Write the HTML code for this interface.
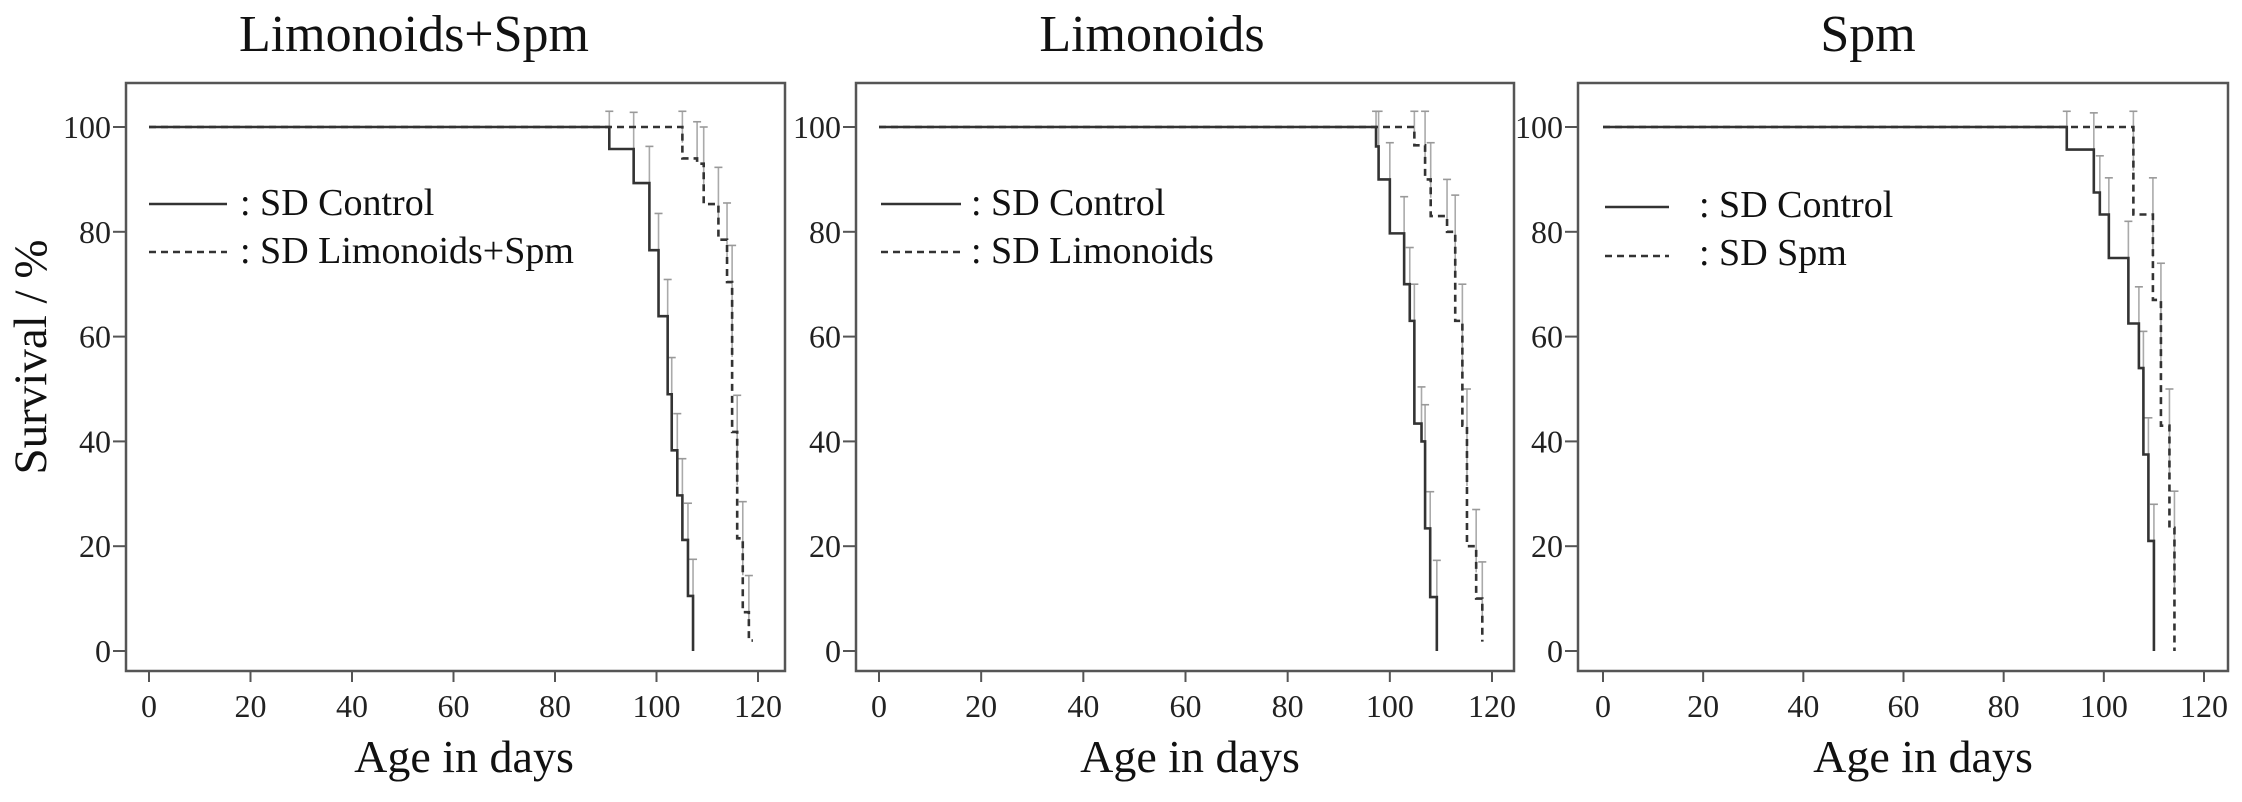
<!DOCTYPE html>
<html><head><meta charset="utf-8"><style>
html,body{margin:0;padding:0;background:#fff;}
svg{display:block;font-family:"Liberation Serif",serif;}
</style></head><body>
<svg id="s" width="2242" height="802" viewBox="0 0 2242 802" xmlns="http://www.w3.org/2000/svg">
<rect width="2242" height="802" fill="#fff"/>
<text x="414" y="51" font-size="52" text-anchor="middle" fill="#111">Limonoids+Spm</text>
<text x="1152" y="51" font-size="52" text-anchor="middle" fill="#111">Limonoids</text>
<text x="1868" y="51" font-size="52" text-anchor="middle" fill="#111">Spm</text>
<text transform="translate(46,357) rotate(-90)" font-size="47" text-anchor="middle" fill="#111">Survival / %</text>
<text x="464" y="772" font-size="46" text-anchor="middle" fill="#111">Age in days</text>
<text x="1190" y="772" font-size="46" text-anchor="middle" fill="#111">Age in days</text>
<text x="1923" y="772" font-size="46" text-anchor="middle" fill="#111">Age in days</text>
<g font-size="38" fill="#111">
<text x="240" y="215">: SD Control</text>
<text x="240" y="263">: SD Limonoids+Spm</text>
<text x="971" y="215">: SD Control</text>
<text x="971" y="263">: SD Limonoids</text>
<text x="1699" y="217">: SD Control</text>
<text x="1699" y="265">: SD Spm</text>
</g>
<g stroke="#333" stroke-width="2.5">
<line x1="149" y1="204" x2="227" y2="204"/>
<line x1="149" y1="252" x2="227" y2="252" stroke-dasharray="7,5"/>
<line x1="881" y1="204" x2="961" y2="204"/>
<line x1="881" y1="252" x2="961" y2="252" stroke-dasharray="7,5"/>
<line x1="1605" y1="207" x2="1669" y2="207"/>
<line x1="1605" y1="256" x2="1669" y2="256" stroke-dasharray="7,5"/>
</g>
<g id="ticks" font-size="32" fill="#222"></g>
<g id="plots"></g>
</svg>
<script>
var NS="http://www.w3.org/2000/svg";
var panels=[
 {L:126,R:785,x0:149,x120:758,
  solid:[[90.7,95.8],[95.5,89.3],[98.6,76.5],[100.4,63.9],[102.2,49],[103,38.3],[104.1,29.7],[105.1,21.2],[106.2,10.5],[107.2,0]],
  dash:[[105.1,94],[108,93],[109.3,85.3],[112.2,78.5],[113.9,70.4],[114.9,41.8],[115.9,21.5],[117,7.4],[118.2,2]],dend:119},
 {L:856,R:1514,x0:879,x120:1492,
  solid:[[97.3,96.3],[97.8,90],[100,79.7],[102.8,70],[103.9,63],[104.8,43.4],[106.2,40],[106.9,23.4],[107.9,10.3],[109.2,0]],
  dash:[[104.8,96.5],[106.9,90],[108,83],[111.2,80],[112.8,63],[114.2,43],[115.1,20],[116.9,10],[118.1,1.8]],dend:118.1},
 {L:1578,R:2228,x0:1603,x120:2204,
  solid:[[92.6,95.7],[98,87.5],[99.2,83.3],[101,75],[104.9,62.5],[107,54],[107.9,37.5],[108.9,21],[110,0]],
  dash:[[105.9,83.3],[109.8,67],[111.4,43],[113.1,23.5],[114.1,0]],dend:114.1}
];
var T=83,B=671,Y100=127,Y0=651;
function el(n,a,p){var e=document.createElementNS(NS,n);for(var k in a)e.setAttribute(k,a[k]);p.appendChild(e);return e;}
var P=document.getElementById('plots'),TK=document.getElementById('ticks');
panels.forEach(function(p){
 var X=function(d){return p.x0+(p.x120-p.x0)*d/120;},Y=function(v){return Y0-(Y0-Y100)*v/100;};
 el('rect',{x:p.L,y:T,width:p.R-p.L,height:B-T,fill:'none',stroke:'#555','stroke-width':2.5},P);
 for(var v=0;v<=100;v+=20){
  el('line',{x1:p.L-13,y1:Y(v),x2:p.L,y2:Y(v),stroke:'#555','stroke-width':2},P);
  var t=el('text',{x:p.L-15,y:Y(v)+11,'text-anchor':'end'},TK);t.textContent=v;
 }
 for(var d=0;d<=120;d+=20){
  el('line',{x1:X(d),y1:B,x2:X(d),y2:B+11,stroke:'#555','stroke-width':2},P);
  var t=el('text',{x:X(d),y:717,'text-anchor':'middle'},TK);t.textContent=d;
 }
 function draw(steps,dash,end){
  var path='M'+X(0)+' '+Y(100),prev=100;
  steps.forEach(function(s){
   path+=' H'+X(s[0])+' V'+Y(s[1]);
   var top=Math.min(prev+7,103);
   var bx=X(s[0]);
   el('line',{x1:bx,y1:Y(s[1]+(prev-s[1])*0.5),x2:bx,y2:Y(top),stroke:'#aaa','stroke-width':1.6},P);
   el('line',{x1:bx-4,y1:Y(top),x2:bx+4,y2:Y(top),stroke:'#999','stroke-width':1.6},P);
   prev=s[1];
  });
  if(end)path+=' H'+X(end);
  var a={d:path,fill:'none',stroke:'#333','stroke-width':2.6};
  if(dash)a['stroke-dasharray']='7,5';
  el('path',a,P);
 }
 draw(p.solid,false,null);
 draw(p.dash,true,p.dend);
});
</script>
</body></html>
